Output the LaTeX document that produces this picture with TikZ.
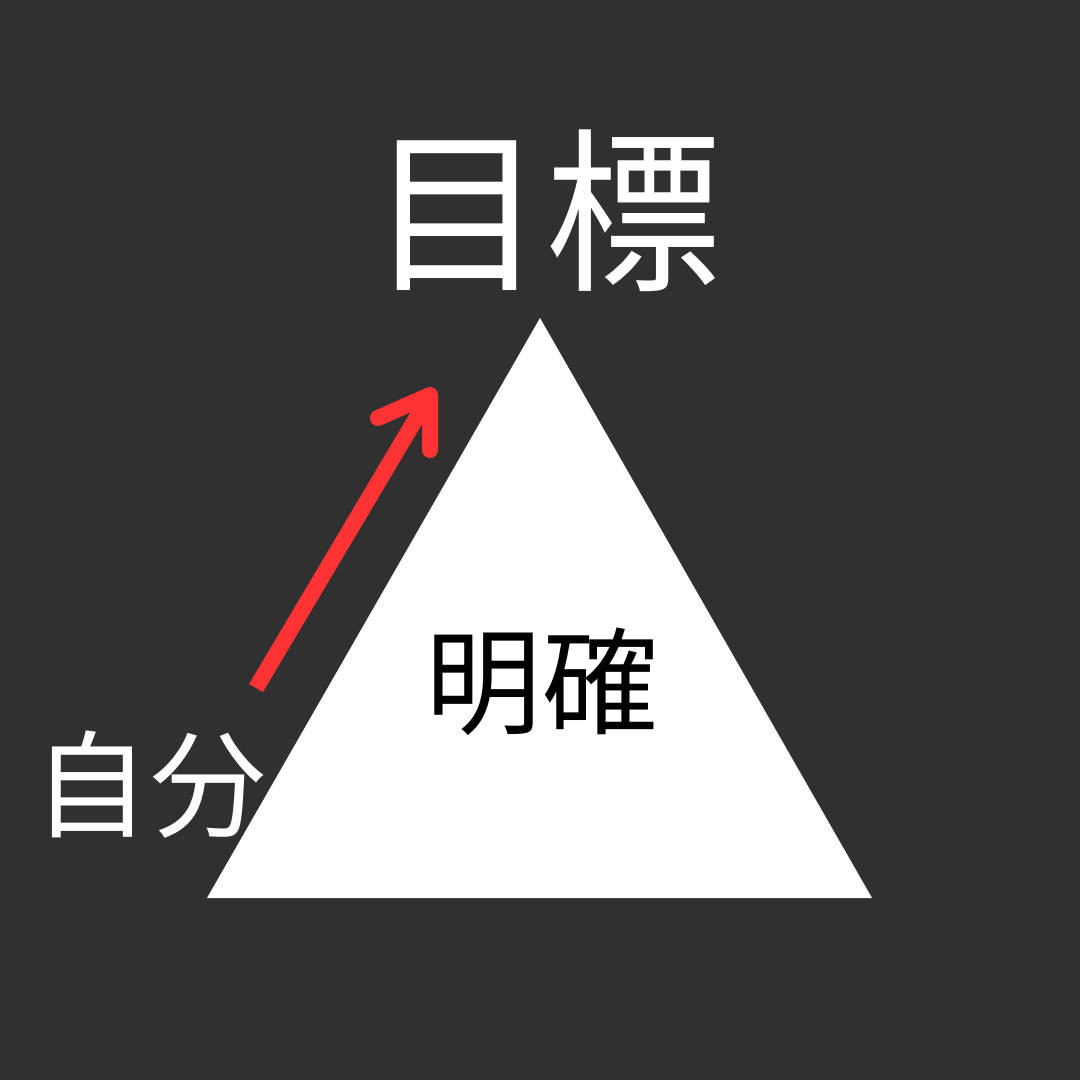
\documentclass[tikz,border=0pt]{standalone}
\usepackage{fontspec}
\newfontfamily\cjk{Noto Sans CJK JP}
\definecolor{bg}{HTML}{303030}
\definecolor{arrowred}{HTML}{FF3333}
\begin{document}
\begin{tikzpicture}[x=0.01cm,y=-0.01cm,
  bigtext/.style={text=white,font=\cjk\fontsize{50}{58}\selectfont,inner sep=0pt},
  midtext/.style={font=\cjk\fontsize{33}{40}\selectfont,inner sep=0pt},
  redarrow/.style={draw=arrowred,line width=0.16cm,line cap=round,line join=round}]
\fill[bg] (0,0) rectangle (1080,1080);
\useasboundingbox (0,0) rectangle (1080,1080);
\fill[white] (540,318) coordinate (apex) -- (207,898) coordinate (bl) -- (872,898) coordinate (br) -- cycle;
\node[bigtext] (goal) at (545,211) {目標};
\node[midtext,text=black] (clear) at (542,682) {明確};
\node[midtext,text=white] (self) at (150,785) {自分};
\coordinate (tail) at (256,688);
\coordinate (tip) at (430,395);
\coordinate (h1) at (378,418);
\coordinate (h2) at (430,450);
\draw[redarrow,line cap=butt] (tail) -- (tip);
\draw[redarrow] (h1) -- (tip) -- (h2);
\end{tikzpicture}
\end{document}
